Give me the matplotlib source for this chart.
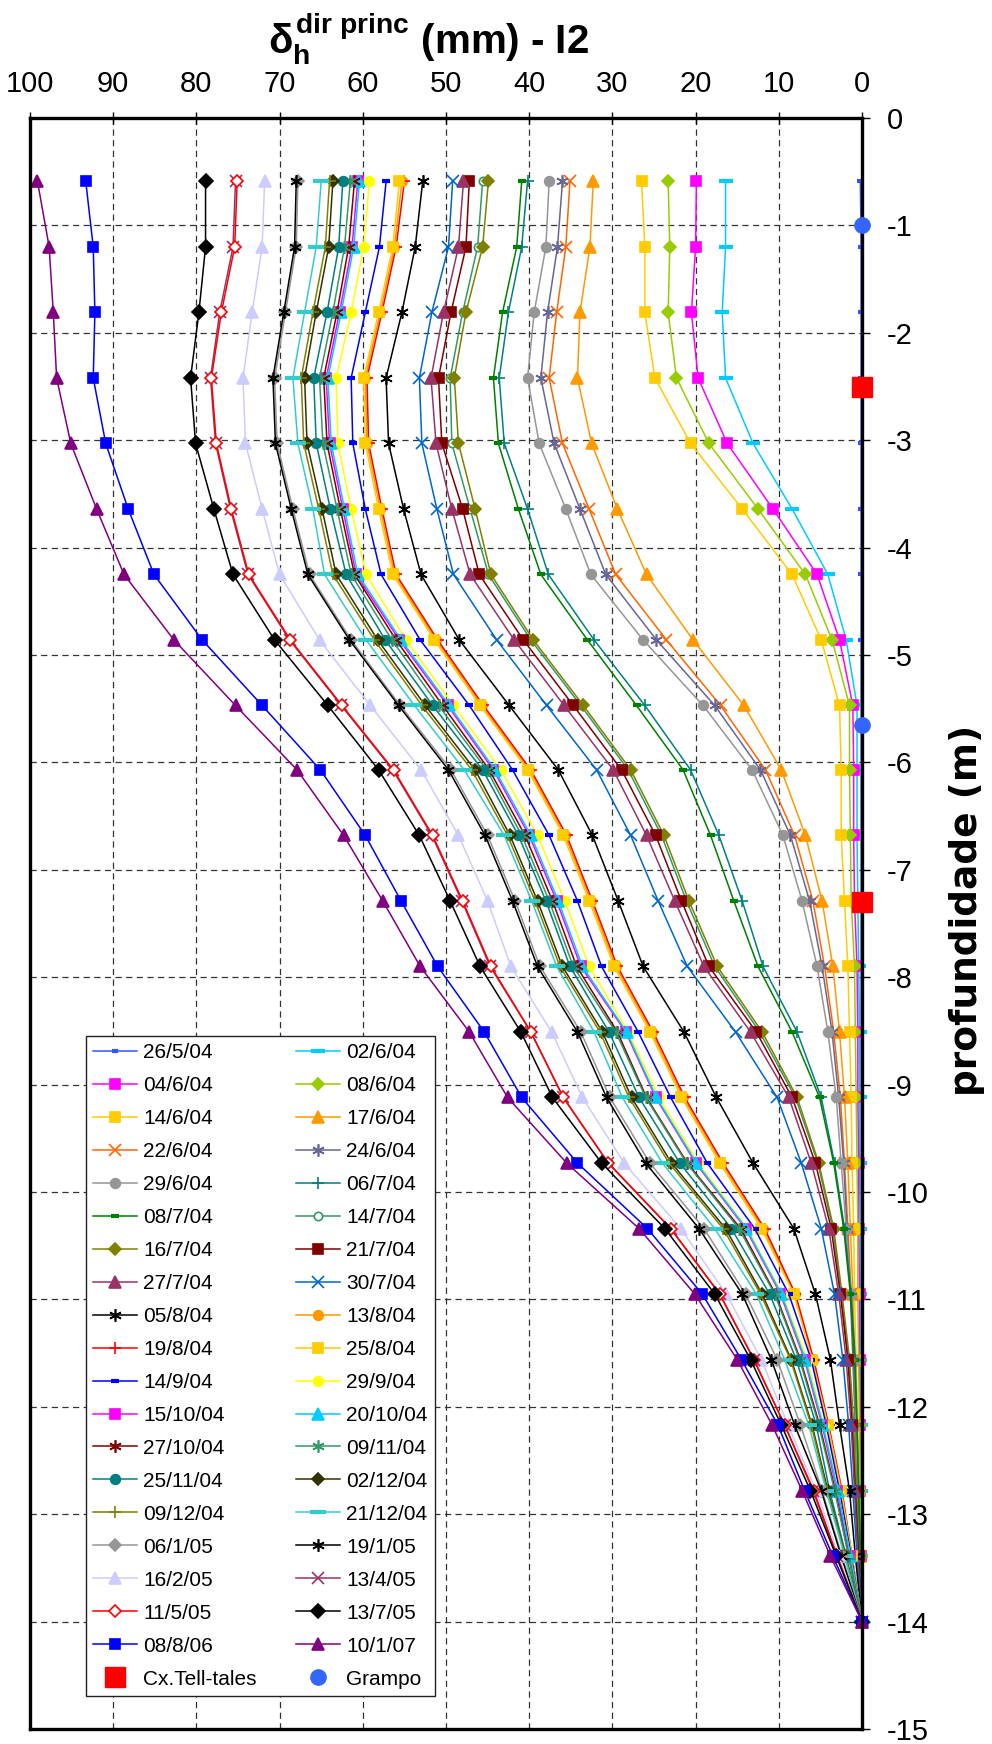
import numpy as np
import matplotlib
matplotlib.use('Agg')
import matplotlib.pyplot as plt
from matplotlib.font_manager import FontProperties

# -----------------------------------
# Inclinometer I2 - horizontal displacement (main direction) vs depth

depth = [-0.59, -1.20, -1.81, -2.42, -3.03, -3.64, -4.25, -4.86, -5.47, -6.07, -6.68, -7.29,
         -7.90, -8.51, -9.12, -9.73, -10.34, -10.95, -11.56, -12.17, -12.78, -13.39, -14.00]

d_260504 = [0.2, 0.1, 0.1, 0.1, 0.1, 0.1, 0.1, 0.1, 0.1, 0.1, 0.1, 0.1,
            0.1, 0.1, 0.1, 0.1, 0.1, 0.1, 0.1, 0.0, 0.0, 0.0, 0.0]
d_020604 = [16.4, 16.4, 16.8, 16.4, 13.1, 8.4, 4.1, 1.9, 0.6, 0.6, 0.6, 0.5,
            0.4, 0.3, 0.3, 0.3, 0.2, 0.2, 0.2, 0.1, 0.1, 0.1, 0.0]
d_040604 = [19.9, 20.0, 20.5, 19.7, 16.2, 10.7, 5.4, 2.7, 1.1, 1.0, 1.0, 0.9,
            0.6, 0.5, 0.5, 0.4, 0.4, 0.3, 0.3, 0.2, 0.2, 0.1, 0.0]
d_080604 = [23.3, 23.1, 23.3, 22.3, 18.4, 12.5, 6.8, 3.6, 1.5, 1.5, 1.4, 1.3,
            0.9, 0.8, 0.7, 0.6, 0.5, 0.5, 0.4, 0.3, 0.2, 0.1, 0.0]
d_140604 = [26.5, 26.1, 26.1, 24.9, 20.6, 14.4, 8.4, 4.9, 2.7, 2.5, 2.5, 2.1,
            1.7, 1.5, 1.3, 1.2, 1.0, 0.9, 0.7, 0.5, 0.4, 0.2, 0.0]
d_170604 = [32.3, 32.7, 33.9, 34.2, 32.5, 29.4, 25.9, 20.3, 14.2, 9.7, 6.8, 4.8,
            3.5, 2.7, 2.1, 1.7, 1.4, 1.1, 0.9, 0.7, 0.5, 0.3, 0.0]
d_220604 = [35.1, 35.6, 36.7, 37.6, 36.0, 32.8, 29.6, 23.5, 17.0, 11.6, 8.1, 5.9,
            4.5, 3.4, 2.6, 2.1, 1.7, 1.3, 1.0, 0.8, 0.5, 0.3, 0.0]
d_240604 = [36.0, 36.6, 37.8, 38.6, 37.0, 33.9, 30.8, 24.7, 17.7, 12.2, 8.6, 6.3,
            4.8, 3.6, 2.8, 2.2, 1.8, 1.4, 1.1, 0.8, 0.6, 0.3, 0.0]
d_290604 = [37.6, 38.0, 39.4, 40.2, 38.8, 35.6, 32.6, 26.3, 19.1, 13.2, 9.5, 7.2,
            5.4, 4.1, 3.1, 2.5, 1.9, 1.3, 0.9, 0.7, 0.5, 0.3, 0.0]
d_060704 = [40.2, 40.9, 42.5, 43.6, 43.0, 40.2, 37.7, 32.2, 26.1, 20.6, 17.2, 14.4,
            11.9, 7.8, 4.9, 3.3, 2.1, 1.3, 0.8, 0.6, 0.4, 0.2, 0.0]
d_080704 = [40.9, 41.5, 43.2, 44.3, 43.7, 41.3, 38.6, 33.0, 27.1, 21.5, 18.2, 15.4,
            12.5, 8.4, 5.1, 3.4, 2.2, 1.4, 0.9, 0.6, 0.4, 0.2, 0.0]
d_140704 = [45.6, 46.2, 48.0, 49.5, 49.3, 47.1, 44.9, 39.8, 33.8, 28.1, 24.1, 21.1,
            17.7, 12.3, 8.0, 5.3, 3.5, 2.5, 1.6, 1.1, 0.7, 0.4, 0.0]
d_160704 = [44.9, 45.6, 47.6, 49.0, 48.5, 46.5, 44.6, 39.5, 33.5, 27.8, 23.8, 20.8,
            17.4, 12.0, 7.8, 5.2, 3.4, 2.4, 1.5, 1.0, 0.7, 0.4, 0.0]
d_210704 = [47.2, 47.6, 49.4, 50.9, 50.5, 48.0, 46.0, 40.7, 34.7, 28.9, 24.8, 21.7,
            18.4, 12.7, 8.4, 5.6, 3.7, 2.6, 1.7, 1.2, 0.8, 0.4, 0.0]
d_270704 = [47.9, 48.5, 50.3, 51.8, 51.2, 49.3, 47.1, 41.8, 35.8, 29.9, 25.9, 22.5,
            19.0, 13.4, 8.8, 6.1, 4.0, 2.8, 1.9, 1.3, 0.9, 0.5, 0.0]
d_300704 = [49.2, 49.7, 51.7, 53.2, 52.9, 51.1, 49.1, 43.9, 37.9, 31.9, 27.8, 24.5,
            21.0, 15.2, 10.2, 7.3, 4.9, 3.3, 2.3, 1.6, 1.1, 0.6, 0.0]
d_050804 = [52.8, 53.7, 55.3, 57.2, 56.9, 55.1, 53.0, 48.4, 42.4, 36.5, 32.4, 29.3,
            26.3, 21.4, 17.5, 13.1, 8.2, 5.6, 3.8, 2.7, 1.5, 0.8, 0.0]
d_130804 = [55.3, 56.2, 57.9, 59.7, 59.5, 57.9, 56.2, 51.2, 45.7, 40.0, 35.7, 32.6,
            29.6, 25.3, 21.5, 16.9, 11.9, 8.1, 5.9, 4.1, 2.5, 1.2, 0.0]
d_190804 = [55.0, 56.0, 57.7, 59.5, 59.3, 57.7, 56.0, 51.0, 45.5, 39.8, 35.5, 32.4,
            29.4, 25.1, 21.3, 16.7, 11.7, 8.0, 5.8, 4.0, 2.4, 1.2, 0.0]
d_250804 = [55.6, 56.4, 58.1, 59.9, 59.7, 58.1, 56.4, 51.4, 45.9, 40.2, 35.9, 32.8,
            29.8, 25.5, 21.7, 17.1, 12.1, 8.2, 6.0, 4.1, 2.5, 1.2, 0.0]
d_140904 = [57.2, 58.0, 59.7, 61.4, 61.2, 59.7, 57.8, 53.1, 47.2, 42.0, 37.6, 34.2,
            31.3, 26.9, 23.0, 18.6, 12.9, 8.8, 6.1, 4.3, 2.7, 1.3, 0.0]
d_290904 = [59.2, 59.9, 61.4, 63.2, 63.0, 61.4, 59.6, 54.8, 49.1, 43.4, 39.0, 35.7,
            32.8, 28.1, 24.4, 19.7, 13.8, 9.6, 6.6, 4.6, 2.9, 1.4, 0.0]
d_151004 = [60.6, 61.3, 62.8, 64.4, 64.0, 62.4, 60.8, 55.6, 49.8, 44.3, 40.0, 36.7,
            33.8, 28.4, 24.8, 20.0, 14.0, 9.8, 6.9, 4.8, 3.0, 1.5, 0.0]
d_201004 = [60.4, 61.1, 62.6, 64.2, 63.8, 62.2, 60.6, 55.4, 49.6, 44.1, 39.8, 36.5,
            33.6, 28.3, 24.7, 19.9, 13.9, 9.7, 6.8, 4.7, 2.9, 1.4, 0.0]
d_271004 = [61.0, 61.7, 63.1, 64.7, 64.3, 62.7, 61.0, 56.0, 50.4, 44.8, 40.5, 37.2,
            34.3, 29.4, 25.9, 21.0, 14.6, 10.4, 7.4, 5.1, 3.2, 1.6, 0.0]
d_091104 = [61.5, 62.2, 63.6, 65.2, 64.8, 63.1, 61.4, 56.5, 50.9, 45.1, 40.9, 37.6,
            34.7, 29.6, 26.0, 21.1, 14.8, 10.5, 7.5, 5.2, 3.3, 1.6, 0.0]
d_251104 = [62.4, 62.9, 64.3, 65.9, 65.6, 63.9, 62.0, 57.3, 51.6, 45.6, 41.3, 38.0,
            35.1, 30.4, 26.8, 21.9, 15.7, 11.1, 7.9, 5.5, 3.9, 1.9, 0.0]
d_021204 = [63.6, 64.1, 65.6, 67.0, 66.7, 64.9, 63.2, 58.2, 52.5, 46.5, 42.3, 39.0,
            36.0, 31.2, 27.7, 22.9, 16.4, 12.0, 8.5, 6.0, 4.1, 2.0, 0.0]
d_091204 = [64.0, 64.5, 66.0, 67.4, 67.1, 65.3, 63.6, 58.6, 52.9, 46.9, 42.6, 39.3,
            36.3, 31.5, 28.0, 23.2, 16.7, 12.2, 8.6, 6.1, 4.2, 2.0, 0.0]
d_211204 = [65.0, 65.6, 67.0, 68.4, 67.8, 66.0, 64.6, 59.6, 53.8, 47.8, 43.0, 39.7,
            36.7, 32.2, 28.8, 24.0, 17.7, 12.7, 9.3, 6.4, 4.3, 2.1, 0.0]
d_060105 = [67.8, 68.0, 69.3, 70.6, 70.3, 68.4, 66.4, 61.4, 55.5, 49.4, 45.0, 41.7,
            38.7, 33.8, 30.3, 25.5, 19.0, 14.0, 10.2, 7.4, 4.8, 2.4, 0.0]
d_190105 = [68.0, 68.2, 69.5, 70.8, 70.5, 68.6, 66.6, 61.6, 55.7, 49.7, 45.3, 42.0,
            39.0, 34.2, 30.7, 26.0, 19.6, 14.4, 10.9, 8.1, 4.9, 2.5, 0.0]
d_160205 = [71.8, 72.1, 73.3, 74.4, 74.1, 72.1, 70.0, 65.2, 59.1, 53.0, 48.5, 45.0,
            42.2, 37.3, 33.6, 28.6, 21.8, 16.3, 12.1, 8.9, 5.5, 2.8, 0.0]
d_130405 = [75.3, 75.6, 77.2, 78.3, 77.7, 75.9, 73.8, 68.8, 62.6, 56.4, 51.7, 48.1,
            44.7, 39.8, 35.9, 30.5, 23.0, 17.1, 13.0, 9.3, 5.9, 3.0, 0.0]
d_110505 = [75.1, 75.4, 77.0, 78.2, 77.6, 75.8, 73.7, 68.7, 62.5, 56.3, 51.6, 48.0,
            44.6, 39.8, 35.9, 30.5, 23.0, 17.1, 13.0, 9.3, 5.8, 3.0, 0.0]
d_130705 = [78.9, 78.9, 79.7, 80.7, 80.1, 77.9, 75.6, 70.6, 64.2, 58.1, 53.2, 49.5,
            45.9, 41.0, 37.2, 31.3, 23.7, 17.7, 13.4, 9.7, 6.2, 3.1, 0.0]
d_080806 = [93.3, 92.4, 92.2, 92.4, 90.9, 88.2, 85.1, 79.3, 72.1, 65.1, 59.7, 55.4,
            51.0, 45.4, 40.9, 34.2, 25.8, 19.2, 14.5, 10.1, 6.9, 3.5, 0.0]
d_100107 = [99.1, 97.7, 97.2, 96.8, 95.1, 92.0, 88.7, 82.7, 75.3, 67.9, 62.3, 57.6,
            53.1, 47.2, 42.6, 35.5, 26.8, 20.1, 15.0, 10.8, 7.2, 3.8, 0.0]

# tell-tale boxes and anchor (grampo) positions along the tube
telltale_depth = [-2.5, -7.3]
grampo_depth = [-1.0, -5.65]

x_ticks = list(range(0, 101, 10))
y_ticks = list(range(-15, 1))

# -----------------------------------
# style for every reading: (label, data, color, marker, markersize, filled)
AST = (6, 2, 0)  # asterisk marker
series = [
    ('26/5/04', d_260504, '#3355FF', '_', 5, True),
    ('02/6/04', d_020604, '#00CCFF', '_', 10, True),
    ('04/6/04', d_040604, '#FF00FF', 's', 7, True),
    ('08/6/04', d_080604, '#99CC00', 'D', 6, True),
    ('14/6/04', d_140604, '#FFCC00', 's', 7, True),
    ('17/6/04', d_170604, '#FF9900', '^', 8, True),
    ('22/6/04', d_220604, '#FF6600', 'x', 8, True),
    ('24/6/04', d_240604, '#666699', AST, 9, True),
    ('29/6/04', d_290604, '#969696', 'o', 7, True),
    ('06/7/04', d_060704, '#008080', '+', 9, True),
    ('08/7/04', d_080704, '#008000', '_', 6, True),
    ('14/7/04', d_140704, '#339966', 'o', 6, False),
    ('16/7/04', d_160704, '#808000', 'D', 6, True),
    ('21/7/04', d_210704, '#800000', 's', 7, True),
    ('27/7/04', d_270704, '#993366', '^', 8, True),
    ('30/7/04', d_300704, '#0066CC', 'x', 8, True),
    ('05/8/04', d_050804, '#000000', AST, 9, True),
    ('13/8/04', d_130804, '#FF9900', 'o', 7, True),
    ('19/8/04', d_190804, '#FF0000', '+', 9, True),
    ('25/8/04', d_250804, '#FFCC00', 's', 7, True),
    ('14/9/04', d_140904, '#0000FF', '_', 6, True),
    ('29/9/04', d_290904, '#FFFF00', 'o', 7, True),
    ('15/10/04', d_151004, '#FF00FF', 's', 7, True),
    ('20/10/04', d_201004, '#00CCFF', '^', 8, True),
    ('27/10/04', d_271004, '#800000', AST, 9, True),
    ('09/11/04', d_091104, '#339966', AST, 9, True),
    ('25/11/04', d_251104, '#008080', 'o', 7, True),
    ('02/12/04', d_021204, '#333300', 'D', 6, True),
    ('09/12/04', d_091204, '#808000', '+', 9, True),
    ('21/12/04', d_211204, '#33CCCC', '_', 11, True),
    ('06/1/05', d_060105, '#969696', 'D', 6, True),
    ('19/1/05', d_190105, '#000000', AST, 9, True),
    ('16/2/05', d_160205, '#CCCCFF', '^', 8, True),
    ('13/4/05', d_130405, '#993366', 'x', 8, True),
    ('11/5/05', d_110505, '#FF0000', 'D', 6, False),
    ('13/7/05', d_130705, '#000000', 'D', 7, True),
    ('08/8/06', d_080806, '#0000FF', 's', 7, True),
    ('10/1/07', d_100107, '#800080', '^', 8, True),
]

narrow = ['Liberation Sans Narrow', 'Liberation Sans', 'DejaVu Sans']
regular = ['Liberation Sans', 'DejaVu Sans']
plt.rcParams['mathtext.fontset'] = 'custom'
plt.rcParams['mathtext.rm'] = 'Liberation Sans:bold'
plt.rcParams['mathtext.it'] = 'Liberation Sans:bold'
plt.rcParams['mathtext.bf'] = 'Liberation Sans:bold'

W, H = 992, 1744
fig = plt.figure(figsize=(W / 100, H / 100), dpi=100)
ax = fig.add_axes([30 / W, 1 - 1729 / H, (862 - 30) / W, (1729 - 118) / H])

handles = []
for label, data, color, marker, ms, filled in series:
    mew = 1.2
    if marker == '_':
        mew = 3.0
    line, = ax.plot(data, depth, color=color, lw=1.1, marker=marker, ms=ms,
                    mfc=color if filled else 'white', mec=color, mew=mew,
                    label=label, clip_on=False)
    handles.append(line)

h_tt, = ax.plot([0] * len(telltale_depth), telltale_depth, ls='none', marker='s',
                ms=14, color='#FF0000', label='Cx.Tell-tales', clip_on=False, zorder=5)
h_gr, = ax.plot([0] * len(grampo_depth), grampo_depth, ls='none', marker='o',
                ms=11, color='#3366FF', label='Grampo', clip_on=False, zorder=5)

ax.set_xlim(100, 0)
ax.set_ylim(-15, 0)
ax.xaxis.tick_top()
ax.yaxis.tick_right()
ax.set_xticks(x_ticks, labels=[str(v) for v in x_ticks], fontsize=21, family=narrow)
ax.set_yticks(y_ticks, labels=[str(v) for v in y_ticks], fontsize=21, family=regular)
ax.tick_params(axis='x', direction='inout', length=9, width=1, pad=10)
ax.tick_params(axis='y', direction='out', length=6, width=1, pad=12)
ax.grid(True, color='#333333', lw=0.9, ls=(0, (5, 3.5)))
ax.set_axisbelow(True)
for sp in ax.spines.values():
    sp.set_linewidth(2.4)
    sp.set_color('black')

# title and depth label
fig.text(0.432, 1 - 54 / H, r'$\delta_{h}^{dir\ princ}$ (mm) - I2', ha='center', va='baseline',
         fontsize=29, fontweight='bold', family=narrow)
fig.text(967 / W, 1 - 910 / H, 'profundidade (m)', rotation=90, ha='center', va='center',
         fontsize=27, fontweight='bold', family=['DejaVu Sans'])

# legend laid out row by row in two columns
order = handles[0::2] + [h_tt] + handles[1::2] + [h_gr]
leg = fig.legend(handles=order, loc='upper left', ncol=2,
                 bbox_to_anchor=(86 / W, 1 - 1036 / H), bbox_transform=fig.transFigure,
                 prop=FontProperties(family=narrow, size=15),
                 frameon=True, fancybox=False, framealpha=1, edgecolor='#222222',
                 handlelength=2.1, handletextpad=0.3, columnspacing=1.9,
                 borderpad=0.35, labelspacing=0.67, borderaxespad=0)
leg.get_frame().set_linewidth(1.0)

fig.savefig('out.png', dpi=100)
